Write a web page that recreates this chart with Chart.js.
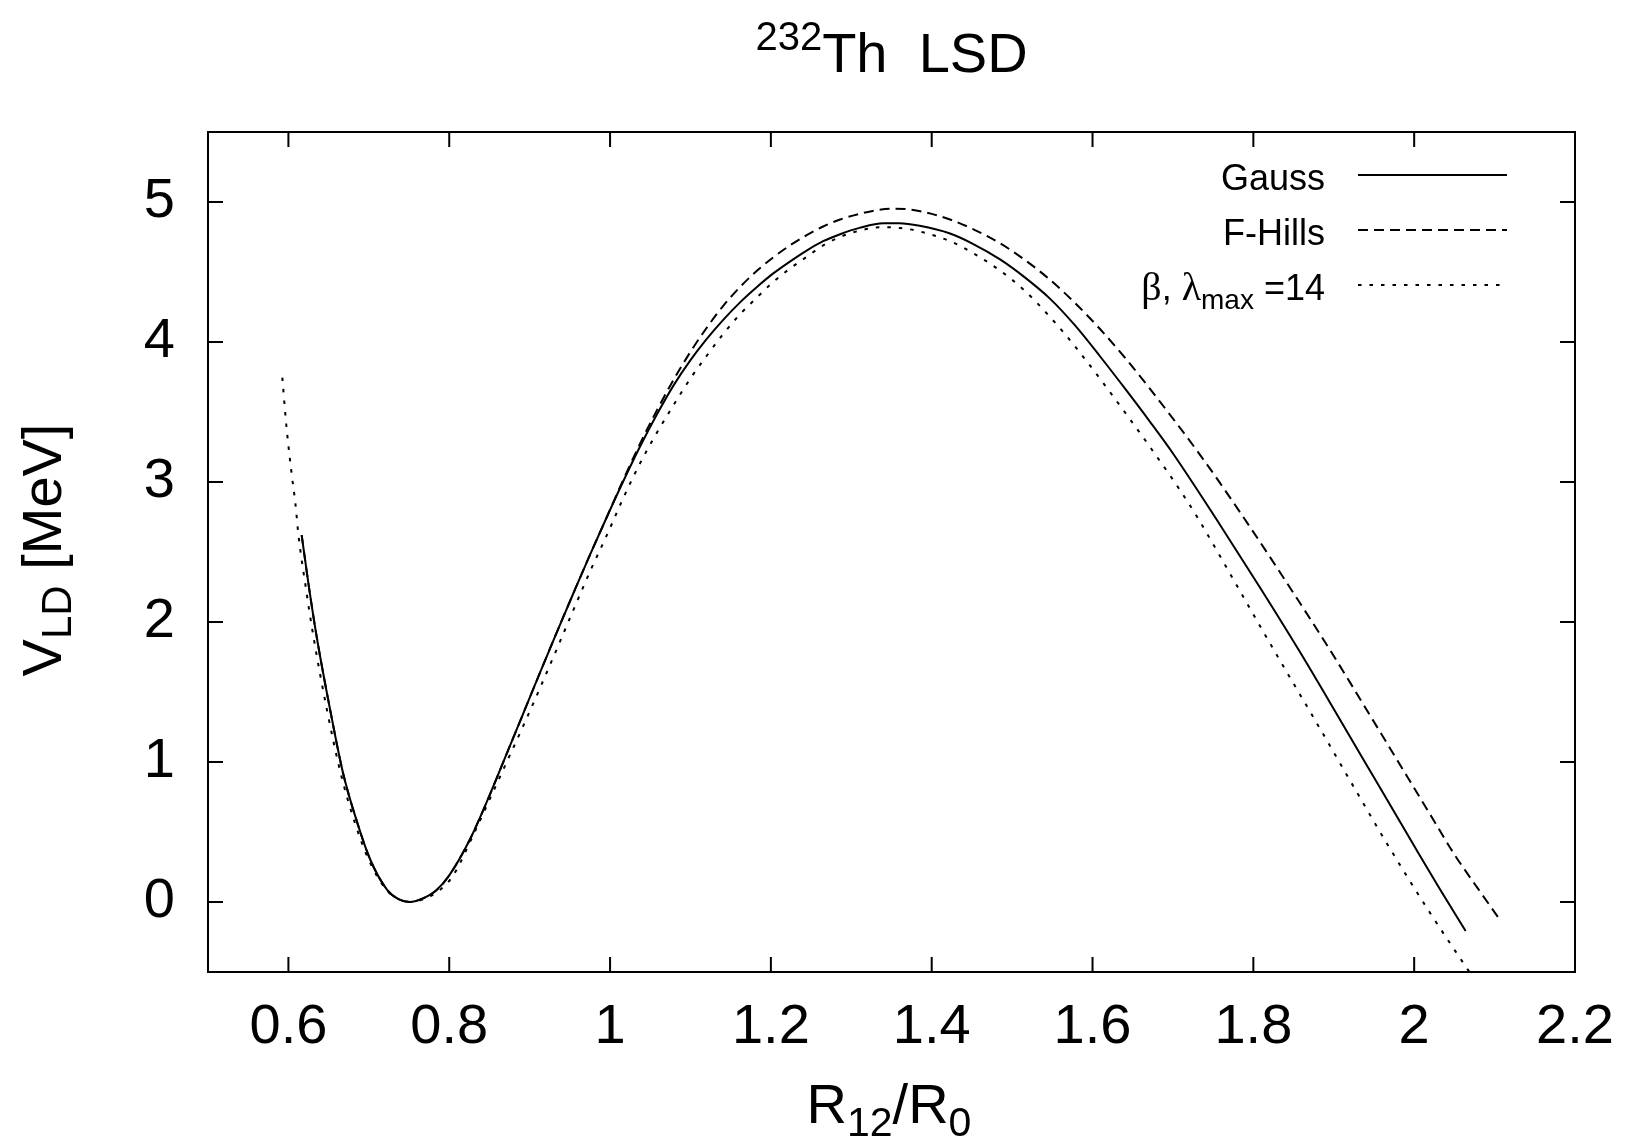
<!DOCTYPE html>
<html>
<head>
<meta charset="utf-8">
<title>232Th LSD</title>
<script src="https://cdn.jsdelivr.net/npm/chart.js@4.4.0/dist/chart.umd.min.js"></script>
<style>
  html, body { margin: 0; padding: 0; background: #fff; }
  canvas { display: block; }
</style>
</head>
<body>
<canvas id="canvas" width="1625" height="1144"></canvas>
<script>
// Gauss (solid)
var gaussX = [0.6165, 0.625, 0.635, 0.652, 0.668, 0.686, 0.702, 0.723, 0.737, 0.751, 0.765, 0.784, 0.80, 0.826, 0.85, 0.8715, 0.893, 0.913, 0.934, 0.954, 0.975, 0.996, 1.016, 1.037, 1.058, 1.079, 1.10, 1.12, 1.141, 1.162, 1.183, 1.203, 1.225, 1.245, 1.265, 1.286, 1.31, 1.34, 1.36, 1.385, 1.4228, 1.45, 1.485, 1.515, 1.547, 1.578, 1.609, 1.64, 1.6715, 1.7005, 1.7545, 1.81, 1.858, 1.906, 1.953, 1.976, 1.999, 2.03, 2.064];
var gaussY = [2.62, 2.27, 1.90, 1.37, 0.92, 0.56, 0.30, 0.085, 0.02, 0.0, 0.02, 0.084, 0.19, 0.45, 0.76, 1.06, 1.36, 1.64, 1.93, 2.20, 2.48, 2.75, 3.00, 3.25, 3.48, 3.69, 3.87, 4.02, 4.16, 4.285, 4.395, 4.49, 4.58, 4.655, 4.72, 4.77, 4.815, 4.848, 4.848, 4.83, 4.775, 4.705, 4.59, 4.465, 4.31, 4.12, 3.90, 3.67, 3.43, 3.20, 2.73, 2.23, 1.785, 1.32, 0.86, 0.635, 0.41, 0.11, -0.207];

// F-Hills (dashed)
var hillsX = [0.6165, 0.625, 0.635, 0.652, 0.668, 0.686, 0.702, 0.723, 0.737, 0.751, 0.765, 0.784, 0.80, 0.826, 0.85, 0.8715, 0.893, 0.913, 0.934, 0.954, 0.975, 0.996, 1.016, 1.037, 1.058, 1.079, 1.10, 1.12, 1.141, 1.162, 1.183, 1.203, 1.225, 1.245, 1.265, 1.286, 1.31, 1.33, 1.352, 1.375, 1.40, 1.4228, 1.45, 1.485, 1.515, 1.547, 1.578, 1.609, 1.64, 1.6715, 1.738, 1.798, 1.8456, 1.8975, 1.947, 1.993, 2.022, 2.05, 2.08, 2.107];
var hillsY = [2.62, 2.27, 1.90, 1.37, 0.92, 0.56, 0.30, 0.085, 0.02, 0.0, 0.02, 0.084, 0.19, 0.45, 0.76, 1.06, 1.36, 1.64, 1.93, 2.20, 2.48, 2.75, 3.01, 3.27, 3.51, 3.73, 3.93, 4.10, 4.26, 4.395, 4.51, 4.605, 4.695, 4.765, 4.825, 4.875, 4.915, 4.94, 4.952, 4.945, 4.915, 4.875, 4.81, 4.705, 4.59, 4.445, 4.28, 4.095, 3.89, 3.665, 3.16, 2.66, 2.245, 1.78, 1.315, 0.88, 0.605, 0.34, 0.09, -0.13];

// beta, lambda_max = 14 (dotted)
var betaX = [0.5924, 0.5975, 0.604, 0.6088, 0.6125, 0.621, 0.631, 0.648, 0.665, 0.683, 0.700, 0.722, 0.737, 0.752, 0.768, 0.788, 0.805, 0.83, 0.85, 0.8715, 0.893, 0.913, 0.934, 0.954, 0.975, 0.996, 1.016, 1.037, 1.058, 1.079, 1.10, 1.12, 1.141, 1.162, 1.183, 1.203, 1.225, 1.245, 1.265, 1.286, 1.31, 1.336, 1.36, 1.385, 1.4228, 1.45, 1.485, 1.515, 1.547, 1.578, 1.609, 1.64, 1.6715, 1.709, 1.7296, 1.777, 1.825, 1.8746, 1.92, 1.968, 2.02, 2.071, 2.085];
var betaY = [3.746, 3.40, 3.06, 2.84, 2.62, 2.27, 1.90, 1.37, 0.92, 0.56, 0.30, 0.085, 0.02, 0.0, 0.02, 0.084, 0.19, 0.48, 0.73, 1.00, 1.27, 1.53, 1.81, 2.08, 2.36, 2.62, 2.88, 3.13, 3.35, 3.55, 3.74, 3.90, 4.06, 4.20, 4.32, 4.43, 4.53, 4.61, 4.69, 4.75, 4.795, 4.82, 4.815, 4.79, 4.72, 4.64, 4.51, 4.37, 4.18, 3.97, 3.74, 3.50, 3.25, 2.94, 2.755, 2.285, 1.805, 1.32, 0.87, 0.40, -0.08, -0.52, -0.64];

var xTicks = [0.6, 0.8, 1, 1.2, 1.4, 1.6, 1.8, 2, 2.2];
var yTicks = [0, 1, 2, 3, 4, 5];

var FONT = "'Liberation Sans', Arial, Helvetica, sans-serif";
var SERIF = "'Liberation Serif', 'DejaVu Serif', serif";
var dashHills = [10, 6];
var dashBeta = [3.5, 8];

function toPoints(xs, ys) {
    return xs.map(function (x, i) { return { x: x, y: ys[i] }; });
}

// draw a run of text pieces (for sub/superscripts)
function drawRich(c, parts, x, y, align) {
    var total = 0;
    parts.forEach(function (p) {
        c.font = p.size + 'px ' + (p.family || FONT);
        p.w = c.measureText(p.t).width;
        total += p.w;
    });
    var cx = x;
    if (align === 'center') cx = x - total / 2;
    if (align === 'right') cx = x - total;
    c.textAlign = 'left';
    c.textBaseline = 'alphabetic';
    parts.forEach(function (p) {
        c.font = p.size + 'px ' + (p.family || FONT);
        c.fillText(p.t, cx, y + (p.dy || 0));
        cx += p.w;
    });
}

var decor = {
    id: 'decor',
    afterDraw: function (chart) {
        var c = chart.ctx;
        var a = chart.chartArea;
        var xs = chart.scales.x, ys = chart.scales.y;
        c.save();
        c.strokeStyle = '#000';
        c.fillStyle = '#000';
        c.lineWidth = 2;
        c.setLineDash([]);

        // frame + inward ticks on all sides
        c.strokeRect(a.left, a.top, a.right - a.left, a.bottom - a.top);
        c.beginPath();
        xTicks.forEach(function (v) {
            var px = xs.getPixelForValue(v);
            c.moveTo(px, a.bottom); c.lineTo(px, a.bottom - 15);
            c.moveTo(px, a.top); c.lineTo(px, a.top + 15);
        });
        yTicks.forEach(function (v) {
            var py = ys.getPixelForValue(v);
            c.moveTo(a.left, py); c.lineTo(a.left + 15, py);
            c.moveTo(a.right, py); c.lineTo(a.right - 15, py);
        });
        c.stroke();

        var mid = (a.left + a.right) / 2;

        // title
        drawRich(c, [
            { t: '232', size: 40, dy: -22 },
            { t: 'Th  LSD', size: 56 }
        ], mid, 72, 'center');

        // x axis label
        drawRich(c, [
            { t: 'R', size: 56 },
            { t: '12', size: 41, dy: 13 },
            { t: '/R', size: 56 },
            { t: '0', size: 41, dy: 13 }
        ], 889, 1123, 'center');

        // y axis label
        c.save();
        c.translate(61, 550);
        c.rotate(-Math.PI / 2);
        drawRich(c, [
            { t: 'V', size: 56 },
            { t: 'LD', size: 42, dy: 10 },
            { t: ' [MeV]', size: 56 }
        ], 0, 0, 'center');
        c.restore();

        // legend
        var rows = [
            { y: 175, dash: [], parts: [{ t: 'Gauss', size: 36 }] },
            { y: 230, dash: dashHills, parts: [{ t: 'F-Hills', size: 36 }] },
            { y: 285, dash: dashBeta, parts: [
                { t: '\u03b2', size: 40, family: SERIF },
                { t: ', ', size: 36 },
                { t: '\u03bb', size: 40, family: SERIF },
                { t: 'max', size: 28, dy: 9 },
                { t: ' =14', size: 36 }
            ] }
        ];
        rows.forEach(function (r) {
            drawRich(c, r.parts, 1325, r.y + 15, 'right');
            c.setLineDash(r.dash);
            c.beginPath();
            c.moveTo(1358, r.y);
            c.lineTo(1507, r.y);
            c.stroke();
        });
        c.restore();
    }
};

var ctx = document.getElementById('canvas').getContext('2d');
var chart = new Chart(ctx, {
    type: 'line',
    data: {
        datasets: [{
            label: 'Gauss',
            data: toPoints(gaussX, gaussY),
            borderColor: '#000',
            borderWidth: 2,
            pointRadius: 0,
            fill: false,
            cubicInterpolationMode: 'monotone'
        }, {
            label: 'F-Hills',
            data: toPoints(hillsX, hillsY),
            borderColor: '#000',
            borderWidth: 2,
            borderDash: dashHills,
            pointRadius: 0,
            fill: false,
            cubicInterpolationMode: 'monotone'
        }, {
            label: 'beta, lambda_max = 14',
            data: toPoints(betaX, betaY),
            borderColor: '#000',
            borderWidth: 2,
            borderDash: dashBeta,
            pointRadius: 0,
            fill: false,
            cubicInterpolationMode: 'monotone'
        }]
    },
    options: {
        responsive: false,
        animation: false,
        layout: { padding: { top: 132, right: 50, left: 0, bottom: 0 } },
        plugins: {
            legend: { display: false },
            title: { display: false },
            tooltip: { enabled: false }
        },
        scales: {
            x: {
                type: 'linear',
                min: 0.5,
                max: 2.2,
                grid: { display: false, drawTicks: false },
                border: { display: false },
                afterBuildTicks: function (s) { s.ticks = xTicks.map(function (v) { return { value: v }; }); },
                afterFit: function (s) {
                    s.height = 172;
                    s.paddingLeft = 0;
                    s.paddingRight = 0;
                },
                ticks: {
                    font: { family: FONT, size: 56 },
                    color: '#000',
                    padding: 22,
                    maxRotation: 0,
                    autoSkip: false,
                    callback: function (v) { return String(v); }
                }
            },
            y: {
                type: 'linear',
                min: -0.5,
                max: 5.5,
                grid: { display: false, drawTicks: false },
                border: { display: false },
                afterBuildTicks: function (s) { s.ticks = yTicks.map(function (v) { return { value: v }; }); },
                afterFit: function (s) {
                    s.width = 208;
                    s.paddingTop = 0;
                    s.paddingBottom = 0;
                },
                ticks: {
                    font: { family: FONT, size: 56 },
                    color: '#000',
                    padding: 33,
                    autoSkip: false,
                    callback: function (v) { return String(v); }
                }
            }
        }
    },
    plugins: [decor]
});
</script>
</body>
</html>
